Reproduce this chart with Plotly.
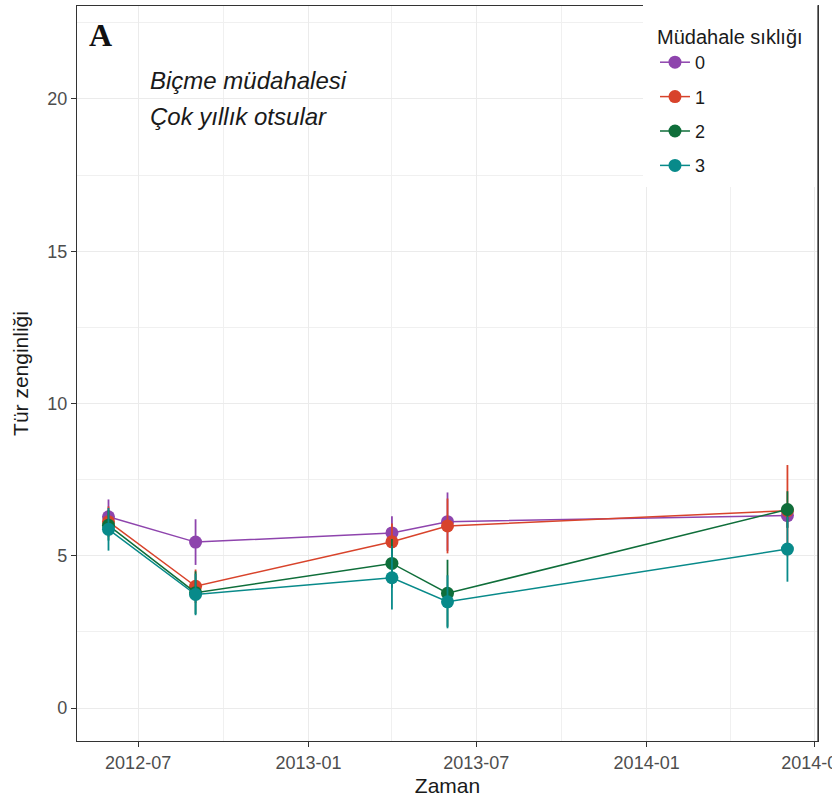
import plotly.graph_objects as go

dates = ["2012-05-30", "2012-09-01", "2013-04-01", "2013-05-31", "2014-06-02"]
groups = ["0", "1", "2", "3"]
means = {
    "0": [6.28, 5.45, 5.75, 6.12, 6.32],
    "1": [6.12, 4.00, 5.46, 5.98, 6.48],
    "2": [6.00, 3.79, 4.75, 3.77, 6.52],
    "3": [5.87, 3.73, 4.28, 3.49, 5.22],
}
errs = {
    "0": [0.57, 0.75, 0.55, 0.96, 0.40],
    "1": [0.50, 0.55, 0.60, 0.90, 1.50],
    "2": [0.50, 0.70, 0.80, 1.10, 0.60],
    "3": [0.70, 0.68, 1.04, 0.87, 1.07],
}
colors = {"0": "#8E44AD", "1": "#D8432B", "2": "#0F6E3A", "3": "#088A8A"}

legend_title = "Müdahale sıklığı"
x_title = "Zaman"
y_title = "Tür zenginliği"
note_lines = ["Biçme müdahalesi", "Çok yıllık otsular"]
panel_label = "A"

fig = go.Figure()
for g in groups:
    fig.add_trace(go.Scatter(
        x=dates, y=means[g], name=g, mode="lines+markers",
        legendgroup=g,
        line=dict(color=colors[g], width=1.5),
        marker=dict(color=colors[g], size=13),
        error_y=dict(type="data", array=errs[g], visible=True,
                     color=colors[g], thickness=1.8, width=0),
    ))

axis_common = dict(
    showline=True, mirror=True, linecolor="#333333", linewidth=1.3,
    ticks="outside", ticklen=5, tickcolor="#333333", tickwidth=1.2,
    gridcolor="#EBEBEB", gridwidth=1, zeroline=False, automargin=False,
    tickfont=dict(family="Liberation Sans", size=18, color="#4D4D4D"),
    title_font=dict(family="Liberation Sans", size=21, color="#1A1A1A"),
)

fig.update_layout(
    width=832, height=803,
    margin=dict(l=77, r=14, t=6, b=62),
    paper_bgcolor="white", plot_bgcolor="white",
    font=dict(family="Liberation Sans"),
    xaxis=dict(
        type="date", range=["2012-04-26", "2014-07-05"],
        tick0="2012-07-01", dtick="M6", tickformat="%Y-%m",
        ticklabeloverflow="allow",
        minor=dict(dtick="M3", tick0="2012-07-01", showgrid=True,
                   gridcolor="#F0F0F0", ticks=""),
        title=dict(text=x_title, standoff=6),
        **axis_common,
    ),
    yaxis=dict(
        range=[-1.08, 23.05], tick0=0, dtick=5,
        minor=dict(dtick=2.5, tick0=0, showgrid=True,
                   gridcolor="#F0F0F0", ticks=""),
        title=dict(text=y_title, standoff=12),
        **axis_common,
    ),
    showlegend=True,
    legend=dict(
        x=0.7638, y=1.0, xanchor="left", yanchor="top",
        bgcolor="rgba(0,0,0,0)", bordercolor="rgba(0,0,0,0)", borderwidth=12,
        title=dict(text=legend_title, font=dict(size=20, color="#1A1A1A")),
        font=dict(size=18, color="#1A1A1A"),
        tracegroupgap=8, itemwidth=30,
    ),
)

# legend background box (covers grid and top border), then right border redrawn
fig.add_shape(type="rect", xref="paper", yref="paper",
              x0=0.7638, x1=1.0, y0=0.7537, y1=1.012,
              fillcolor="white", line=dict(width=0), layer="above")
fig.add_shape(type="line", xref="paper", yref="paper",
              x0=1.0, x1=1.0, y0=-0.001, y1=1.0009,
              line=dict(color="#333333", width=1.3), layer="above")

fig.add_annotation(
    x=0.013, y=0.9605, xref="paper", yref="paper", xanchor="left", yanchor="middle",
    text="<b>" + panel_label + "</b>", showarrow=False,
    font=dict(family="Liberation Serif", size=32, color="#111111"),
)
fig.add_annotation(
    x=0.096, y=0.899, xref="paper", yref="paper", xanchor="left", yanchor="middle",
    text="<i>" + note_lines[0] + "</i>", showarrow=False,
    font=dict(family="Liberation Sans", size=24, color="#1A1A1A"),
)
fig.add_annotation(
    x=0.096, y=0.849, xref="paper", yref="paper", xanchor="left", yanchor="middle",
    text="<i>" + note_lines[1] + "</i>", showarrow=False,
    font=dict(family="Liberation Sans", size=24, color="#1A1A1A"),
)

fig.write_html("out.html")
